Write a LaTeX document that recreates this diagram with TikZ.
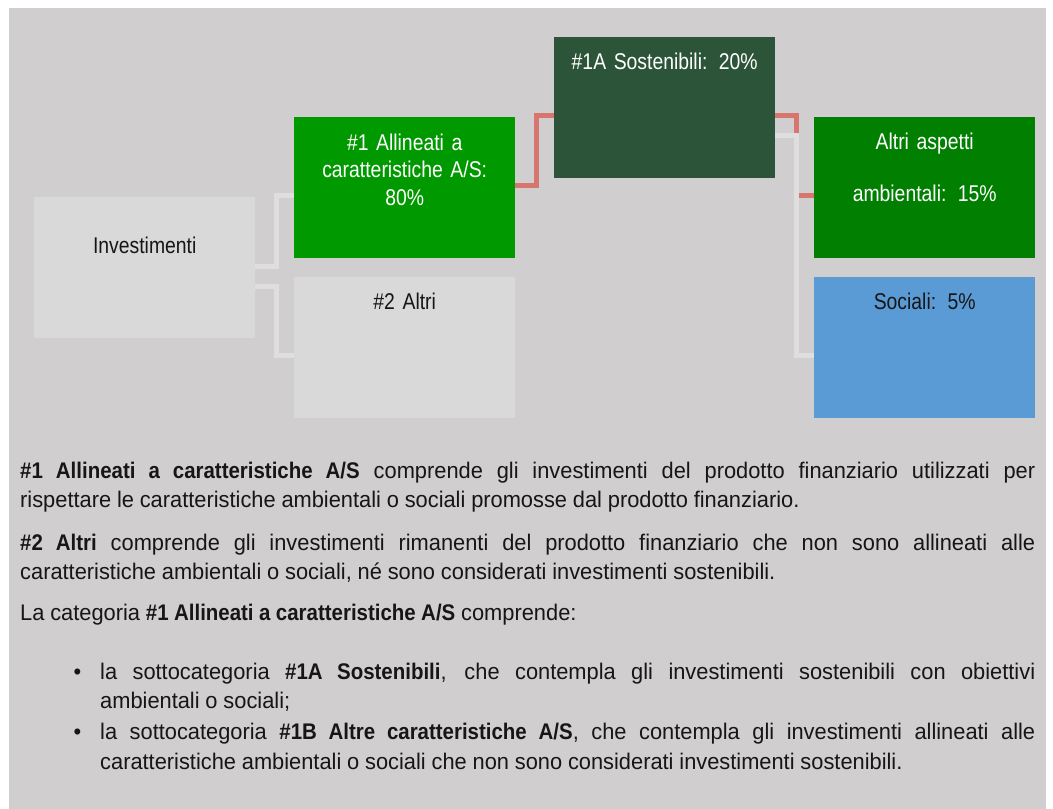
\documentclass[tikz,border=0pt]{standalone}
\usepackage{fontspec}
\setmainfont{Liberation Sans}[UprightFeatures={FakeStretch=0.966}, BoldFeatures={FakeStretch=0.905}, WordSpace=0.96]
\newfontfamily\boxfamily{Liberation Sans}[FakeStretch=0.85, WordSpace=0.7]
\newcommand\myboxfont{\boxfamily\fontsize{22.8}{27.5}\selectfont}
\newcommand\mybodyfont{\fontsize{22.6}{29.5}\selectfont}
\definecolor{bg}{HTML}{D0CECE}
\definecolor{lightbox}{HTML}{D9D9D9}
\definecolor{greenA}{HTML}{009900}
\definecolor{darkgreen}{HTML}{2B5438}
\definecolor{greenB}{HTML}{007F00}
\definecolor{blueS}{HTML}{5B9BD5}
\definecolor{connlight}{HTML}{DEDEDE}
\definecolor{connsalmon}{HTML}{D6766E}
\definecolor{txt}{HTML}{161616}
\tikzset{
  box/.style={draw=none, minimum width=221pt, minimum height=141pt, inner sep=0pt, anchor=north west},
  boxtext/.style={inner sep=0pt, anchor=base, text width=221pt, align=center, font=\myboxfont},
  lightconn/.style={draw=connlight, line width=5pt},
  salmonconn/.style={draw=connsalmon, line width=5pt},
  para/.style={inner sep=0pt, anchor=base west, align=left, text=txt, font=\mybodyfont},
}
\begin{document}
\begin{tikzpicture}[x=1pt,y=-1pt]
\useasboundingbox (0,0) rectangle (1053,809);
\fill[white] (0,0) rectangle (1053,809);
\fill[bg] (9,8) rectangle (1046,809);

% boxes
\node[box, fill=lightbox] (inv) at (34,197) {};
\node[box, fill=greenA] (a1) at (294,117) {};
\node[box, fill=lightbox] (a2) at (294,277) {};
\node[box, fill=darkgreen] (s1a) at (554,37) {};
\node[box, fill=greenB] (amb) at (814,117) {};
\node[box, fill=blueS] (soc) at (814,277) {};

% box texts
\node[boxtext, text=txt] at ([yshift=-56pt]inv.north) {Investimenti};
\node[boxtext, text=white] at ([yshift=-33pt]a1.north) {\#1 Allineati a\\caratteristiche A/S:\\80\%};
\node[boxtext, text=txt] at ([yshift=-32pt]a2.north) {\#2 Altri};
\node[boxtext, text=white] at ([yshift=-32pt]s1a.north) {\#1A Sostenibili: 20\%};
\node[boxtext, text=white] at ([yshift=-32pt]amb.north) {Altri aspetti\\[24.5pt]ambientali: 15\%};
\node[boxtext, text=txt] at ([yshift=-32pt]soc.north) {Sociali: 5\%};

% connectors
\draw[lightconn] ([yshift=1.5pt]inv.east) -- ++(21.5,0) |- ([yshift=-8pt]a1.west);
\draw[lightconn] ([yshift=-18.5pt]inv.east) -- ++(21.5,0) |- ([yshift=-8pt]a2.west);
\draw[salmonconn] ([yshift=2pt]a1.east) -- ++(21.5,0) |- ([yshift=-8pt]s1a.west);
\draw[salmonconn] ([yshift=-8pt]s1a.east) -- ++(21.5,0) |- ([yshift=-8pt]amb.west);
\draw[lightconn] ([yshift=-28pt]s1a.east) -- ++(21.5,0) |- ([yshift=-8pt]soc.west);

% body text (anchor base = baseline of the last line)
\node[para] (p1) at (20,507.5) {\makebox[1015pt][s]{\textbf{\#1 Allineati a caratteristiche A/S} comprende gli investimenti del prodotto finanziario utilizzati per}\\
rispettare le caratteristiche ambientali o sociali promosse dal prodotto finanziario.};
\node[para] (p2) at (20,579.5) {\makebox[1015pt][s]{\textbf{\#2 Altri} comprende gli investimenti rimanenti del prodotto finanziario che non sono allineati alle}\\
caratteristiche ambientali o sociali, né sono considerati investimenti sostenibili.};
\node[para] (p3) at (20,620.5) {La categoria \textbf{\#1 Allineati a caratteristiche A/S} comprende:};
\node[para] (b1) at (100,708.5) {\llap{\textbullet\hspace{19pt}}\makebox[935pt][s]{la sottocategoria \textbf{\#1A Sostenibili}, che contempla gli investimenti sostenibili con obiettivi}\\
ambientali o sociali;};
\node[para] (b2) at (100,769) {\llap{\textbullet\hspace{19pt}}\makebox[935pt][s]{la sottocategoria \textbf{\#1B Altre caratteristiche A/S}, che contempla gli investimenti allineati alle}\\
caratteristiche ambientali o sociali che non sono considerati investimenti sostenibili.};
\end{tikzpicture}
\end{document}
